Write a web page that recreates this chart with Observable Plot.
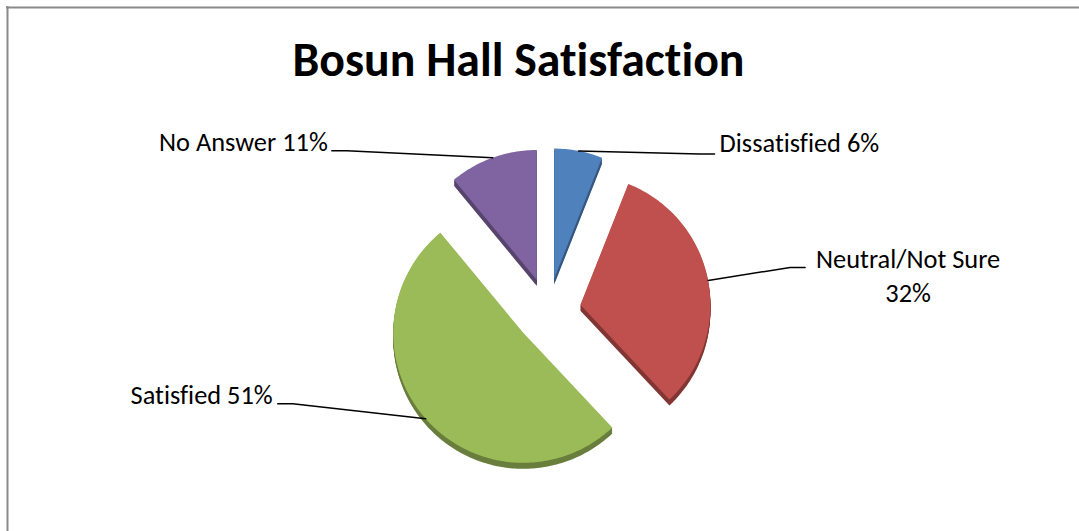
<!DOCTYPE html>
<html>
<head>
<meta charset="utf-8">
<script src="https://cdn.jsdelivr.net/npm/d3@7"></script>
<script src="https://cdn.jsdelivr.net/npm/@observablehq/plot@0.6"></script>
<style>
  html, body { margin: 0; padding: 0; background: #fff; overflow: hidden; }
  #chart svg { display: block; overflow: hidden; }
  #chart svg text { font-variant-ligatures: none; font-feature-settings: "liga" 0, "clig" 0; }
</style>
</head>
<body>
<div id="chart"></div>
<script>
// ---------------- data ----------------
const title = "Bosun Hall Satisfaction";
const categories = ["Dissatisfied", "Neutral/Not Sure", "Satisfied", "No Answer"];
const percents = [6, 32, 51, 11];
const labelTexts = ["Dissatisfied 6%", "Neutral/Not Sure\n32%", "Satisfied 51%", "No Answer 11%"];
const colors = ["#4F81BD", "#C0504D", "#9BBB59", "#8064A2"];

// ---------------- layout ----------------
const W = 1079, H = 531;
const cx = 547.5, cy = 310.5, R = 130, explode = 33, depth = 6;
const fontFamily = "Carlito, Calibri, Lato, 'Open Sans', sans-serif";
const labelSize = 26.4, titleSize = 47.8;
const borderInset = 7;
// leader end relative to each slice's arc midpoint, and label alignment
const labelLayout = [
  {dx: 136, dy: 3, anchor: "start", tx: 5, ty: -2},
  {dx: 97, dy: -13, anchor: "middle", tx: 103, ty: 35},
  {dx: -148, dy: -15, anchor: "end", tx: -5, ty: 0},
  {dx: -161, dy: -7, anchor: "end", tx: -4, ty: 0}
];

const rad = Math.PI / 180;
const arcs = d3.pie().sort(null).value(d => d)(percents);
const geom = arcs.map((a, i) => {
  const mid = (a.startAngle + a.endAngle) / 2;
  const ox = cx + explode * Math.sin(mid), oy = cy - explode * Math.cos(mid);
  return {i, cat: categories[i], a0: a.startAngle, a1: a.endAngle, mid, ox, oy,
          ax: ox + R * Math.sin(mid), ay: oy - R * Math.cos(mid)};
});

function slicePoints(g, dy, key) {
  const pts = [{key, cat: g.cat, x: g.ox, y: g.oy + dy}];
  const n = Math.max(2, Math.ceil((g.a1 - g.a0) / rad));
  for (let k = 0; k <= n; k++) {
    const t = g.a0 + (g.a1 - g.a0) * k / n;
    pts.push({key, cat: g.cat, x: g.ox + R * Math.sin(t), y: g.oy - R * Math.cos(t) + dy});
  }
  pts.push({key, cat: g.cat, x: g.ox, y: g.oy + dy});
  return pts;
}

const tops = geom.flatMap(g => slicePoints(g, 0, g.cat));
const sideMarks = geom.map(g => {
  const pts = [];
  for (let d = 1; d <= depth; d++) pts.push(...slicePoints(g, d, `${g.i}-${d}`));
  return Plot.line(pts, {x: "x", y: "y", z: "key", fill: d3.color(colors[g.i]).darker(1.1).formatHex(), stroke: "none"});
});

const leaders = [];
const labels = [];
geom.forEach((g, i) => {
  const L = labelLayout[i];
  const tx = g.ax + L.dx, ty = g.ay + L.dy;
  const ex = tx + (L.dx < 0 ? 15 : -15);
  leaders.push({cat: g.cat, x: g.ax, y: g.ay}, {cat: g.cat, x: ex, y: ty}, {cat: g.cat, x: tx, y: ty});
  labels.push({cat: g.cat, text: labelTexts[i], anchor: L.anchor, x: tx + L.tx, y: ty + L.ty});
});

const textMarks = ["start", "middle", "end"].map(anchor =>
  Plot.text(labels.filter(d => d.anchor === anchor), {
    x: "x", y: "y", text: "text", textAnchor: anchor, lineAnchor: "bottom",
    lineHeight: 34 / labelSize, fontSize: labelSize, fill: "#000"
  })
);

const chart = Plot.plot({
  width: W, height: H, margin: 0,
  x: {domain: [0, W], range: [0, W], axis: null},
  y: {domain: [0, H], range: [0, H], axis: null},
  color: {domain: categories, range: colors},
  style: {fontFamily, background: "white", color: "black"},
  marks: [
    Plot.ruleX([borderInset], {y1: borderInset - 1, y2: H, stroke: "#8a8a8a", strokeWidth: 2}),
    Plot.ruleY([borderInset], {x1: borderInset - 1, x2: W, stroke: "#8a8a8a", strokeWidth: 2}),
    ...sideMarks,
    Plot.line(tops, {x: "x", y: "y", z: "cat", fill: "cat", stroke: "none"}),
    Plot.line(leaders, {x: "x", y: "y", z: "cat", stroke: "#000", strokeWidth: 1.5}),
    ...textMarks,
    Plot.text([title], {frameAnchor: "top-left", dx: 518, dy: 75, text: d => d, textAnchor: "middle",
      lineAnchor: "bottom", fontSize: titleSize, fontWeight: "bold", fill: "#000"})
  ]
});
document.getElementById("chart").append(chart);
</script>
</body>
</html>
